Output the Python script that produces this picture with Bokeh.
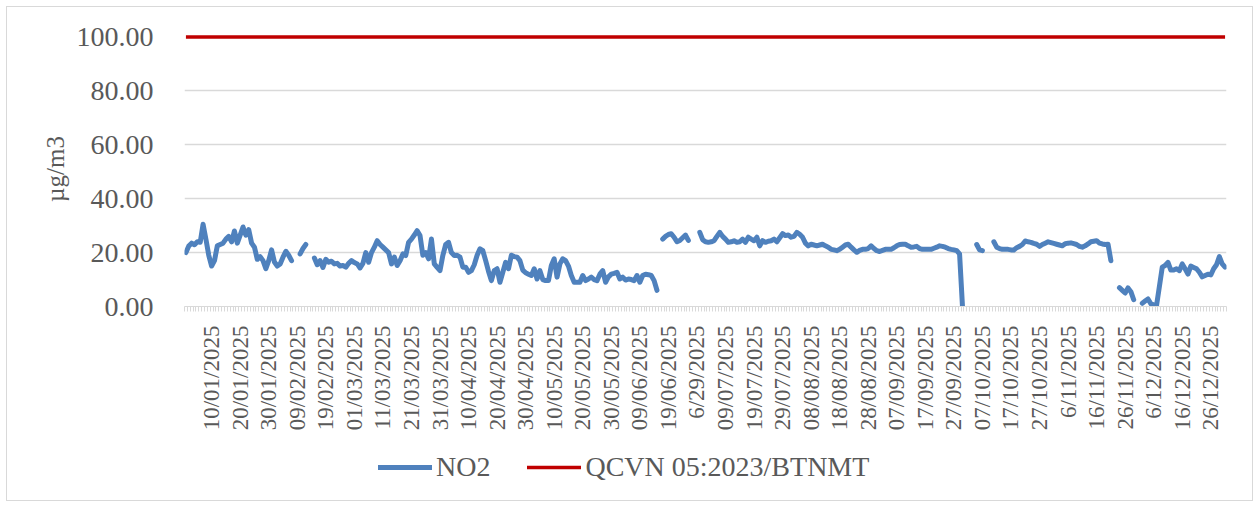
import numpy as np
from bokeh.plotting import figure
from bokeh.layouts import column
from bokeh.models import Range1d, FixedTicker, NumeralTickFormatter, Legend, LegendItem, ColumnDataSource
from bokeh.embed import file_html
from bokeh.resources import INLINE

N = None
# Daily NO2 (ug/m3), 2025, one list per month; None = no data
jan = [20.0, 22.4, 23.5, 22.9, 24.0, 23.8, 30.5, 25.0, 19.0, 15.0, 17.0, 22.5, 23.0, 23.5, 25.0, 26.0,
       24.0, 28.0, 23.5, 26.5, 29.5, 26.5, 28.5, 23.5, 22.0, 17.5, 18.5, 17.0, 14.0, 17.0, 21.0]
feb = [16.5, 15.0, 15.8, 18.3, 20.5, 19.0, 17.0, N, N, 19.5, 21.5, 23.0, N, N, 18.0, 15.5, 17.0, 14.5,
       17.5, 16.4, 16.8, 15.8, 16.0, 15.0, 15.2, 14.6, 16.0, 17.0]
mar = [16.3, 15.8, 14.3, 16.0, 20.0, 16.4, 20.0, 22.0, 24.4, 23.0, 22.0, 21.0, 20.0, 15.8, 18.3, 15.2,
       17.0, 19.5, 18.9, 23.8, 25.0, 26.5, 28.1, 26.3, 19.0, 20.0, 17.7, 25.0, 15.8, 14.5, 13.3]
apr = [19.0, 23.0, 23.8, 20.0, 18.9, 19.0, 18.3, 14.6, 14.6, 12.7, 13.3, 15.5, 19.0, 21.4, 20.7, 17.0,
       13.0, 9.6, 13.3, 14.0, 9.0, 12.7, 16.4, 14.0, 19.0, 18.5, 18.3, 17.0, 13.5, 12.5]
may = [12.0, 11.5, 14.0, 10.2, 13.3, 10.0, 9.6, 9.6, 15.2, 17.7, 10.9, 15.8, 17.7, 17.0, 15.0, 11.5,
       9.0, 9.0, 9.0, 11.5, 9.6, 10.2, 10.9, 10.0, 9.6, 12.0, 13.3, 9.0, 11.0, 12.0, 12.3]
jun = [12.7, 10.2, 10.9, 9.8, 10.2, 10.0, 9.6, 11.5, 9.0, 11.5, 12.0, 11.8, 11.5, 9.6, 6.0, N,
       25.0, 26.0, 26.7, 27.0, 25.7, 24.0, 24.5, 25.5, 26.5, 24.5, N, N, N, 27.5]
jul = [24.8, 24.0, 23.8, 24.0, 24.4, 26.0, 27.5, 26.0, 25.0, 23.8, 24.0, 24.4, 23.8, 24.0, 25.0, 23.8,
       25.7, 25.0, 24.4, 25.7, 22.5, 24.4, 23.8, 24.2, 24.4, 25.0, 24.0, 25.5, 27.0, 26.3, 26.5]
aug = [25.7, 26.0, 27.5, 26.8, 25.7, 23.5, 22.5, 23.1, 22.8, 22.5, 22.8, 23.1, 22.5, 22.0, 21.2, 21.0,
       20.7, 21.2, 22.0, 22.8, 23.1, 22.0, 21.0, 20.1, 20.8, 21.2, 21.2, 21.5, 22.5, 21.5, 20.7]
sep = [20.4, 20.8, 21.2, 21.2, 21.2, 21.8, 22.5, 23.0, 23.1, 23.1, 22.5, 22.0, 22.1, 22.3, 21.5, 21.2,
       21.2, 21.2, 21.2, 21.6, 22.0, 22.5, 22.3, 22.0, 21.5, 21.2, 21.0, 20.7, 19.5, 0.3]
oct_ = [N, N, N, N, 23.0, 21.0, 20.7, N, N, N, 24.0, 22.0, 21.5, 21.2, 21.2, 21.2, 21.0, 21.0, 21.8,
        22.3, 23.0, 24.3, 24.0, 23.8, 23.4, 23.1, 22.3, 23.0, 23.5, 24.0, 23.7]
nov = [23.4, 23.1, 22.8, 22.5, 23.3, 23.5, 23.6, 23.3, 23.0, 22.3, 22.0, 22.5, 23.2, 24.0, 24.2, 24.4,
       23.5, 23.2, 23.0, 23.1, 17.0, N, N, 7.0, 6.0, 5.0, 6.9, 5.5, 2.5, N]
dec = [N, 1.2, 2.0, 2.8, 1.0, 0.6, 0.4, 7.5, 14.6, 15.2, 16.4, 13.5, 13.5, 14.0, 13.3, 15.8, 14.0,
       12.0, 15.0, 14.5, 14.0, 12.7, 11.0, 11.5, 12.0, 11.7, 14.0, 15.5, 18.5, 15.8, 14.6]

QCVN_LIMIT = 100.0

tick_labels = ["10/01/2025", "20/01/2025", "30/01/2025", "09/02/2025", "19/02/2025", "01/03/2025",
               "11/03/2025", "21/03/2025", "31/03/2025", "10/04/2025", "20/04/2025", "30/04/2025",
               "10/05/2025", "20/05/2025", "30/05/2025", "09/06/2025", "19/06/2025", "6/29/2025",
               "09/07/2025", "19/07/2025", "29/07/2025", "08/08/2025", "18/08/2025", "28/08/2025",
               "07/09/2025", "17/09/2025", "27/09/2025", "07/10/2025", "17/10/2025", "27/10/2025",
               "6/11/2025", "16/11/2025", "26/11/2025", "6/12/2025", "16/12/2025", "26/12/2025"]
y_ticks = [0, 20, 40, 60, 80, 100]

no2 = np.array([np.nan if v is None else v for v in
                jan + feb + mar + apr + may + jun + jul + aug + sep + oct_ + nov + dec], dtype=float)
days = np.arange(len(no2))
limit = np.full(len(no2), QCVN_LIMIT)
src = ColumnDataSource(dict(day=days, no2=no2, limit=limit))

FONT = "Liberation Serif"
GREY = "#595959"
LIGHT = "#d9d9d9"
BLUE = "#4F81BD"
RED = "#C00000"

p = figure(width=1245, height=430, x_range=Range1d(-0.5, len(no2) - 0.5), y_range=Range1d(0, 102),
           output_backend="svg", toolbar_location=None,
           min_border_left=177, min_border_right=26, min_border_top=24, min_border_bottom=131)
p.outline_line_color = None

p.line("day", "no2", source=src, line_color=BLUE, line_width=5, line_join="round", line_cap="round")
p.line("day", "limit", source=src, line_color=RED, line_width=3.5)

major = [9 + 10 * i for i in range(len(tick_labels))]
p.xaxis.ticker = FixedTicker(ticks=major, minor_ticks=[d - 0.5 for d in range(len(no2) + 1)])
p.xaxis.major_label_overrides = {m: t for m, t in zip(major, tick_labels)}
p.xaxis.major_label_orientation = np.pi / 2
p.xaxis.major_label_text_font = FONT
p.xaxis.major_label_text_font_size = "23px"
p.xaxis.major_label_text_color = GREY
p.xaxis.major_tick_line_color = None
p.xaxis.major_tick_out = 5
p.xaxis.major_tick_in = 0
p.xaxis.major_label_standoff = 14
p.xaxis.minor_tick_line_color = LIGHT
p.xaxis.minor_tick_out = 5
p.xaxis.minor_tick_in = 0
p.xaxis.axis_line_color = LIGHT
p.xgrid.visible = False

p.yaxis.ticker = FixedTicker(ticks=y_ticks, minor_ticks=[])
p.yaxis.formatter = NumeralTickFormatter(format="0.00")
p.yaxis.major_label_text_font = FONT
p.yaxis.major_label_text_font_size = "28px"
p.yaxis.major_label_text_color = GREY
p.yaxis.axis_line_color = None
p.yaxis.major_tick_line_color = None
p.yaxis.major_label_standoff = 25
p.yaxis.axis_label = "µg/m3"
p.yaxis.axis_label_text_font = FONT
p.yaxis.axis_label_text_font_size = "25px"
p.yaxis.axis_label_text_font_style = "normal"
p.yaxis.axis_label_text_color = GREY
p.yaxis.axis_label_standoff = 5
p.ygrid.ticker = FixedTicker(ticks=y_ticks[1:-1])
p.ygrid.grid_line_color = LIGHT
p.ygrid.grid_line_width = 1.5

# Legend strip below the chart (its own figure so the legend is not clipped by the plot frame)
lg = figure(width=1245, height=63, x_range=Range1d(0, 1), y_range=Range1d(1000, 1001),
            output_backend="svg", toolbar_location=None, x_axis_type=None, y_axis_type=None,
            min_border=0)
lg.outline_line_color = None
lg.grid.visible = False
k1 = lg.line("day", "no2", source=src, line_color=BLUE, line_width=5, line_cap="round")
k2 = lg.line("day", "limit", source=src, line_color=RED, line_width=3.5, line_cap="round")
legend = Legend(items=[LegendItem(label="NO2", renderers=[k1]),
                       LegendItem(label="QCVN 05:2023/BTNMT", renderers=[k2])],
                orientation="horizontal", location=(194, 17),
                border_line_color=None, background_fill_alpha=0, padding=0, margin=0,
                spacing=37, label_standoff=4, glyph_width=54, glyph_height=20, label_height=20,
                label_text_font=FONT, label_text_font_size="28px", label_text_color=GREY)
lg.add_layout(legend)

layout = column(p, lg, spacing=0,
                styles={"border": "1px solid #d9d9d9", "margin": "6px 0 0 6px"})

open("out.html", "w").write(file_html(layout, INLINE))
